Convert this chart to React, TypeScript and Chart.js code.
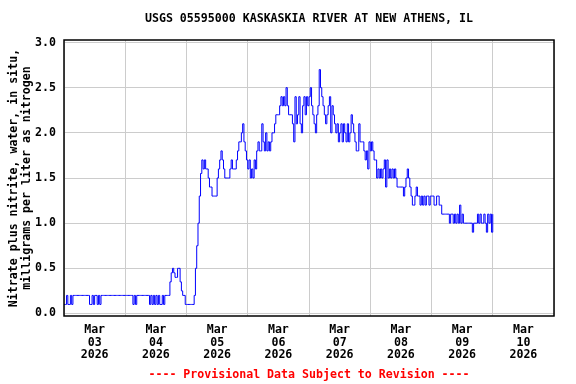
import React, { useEffect, useRef } from "react";
import { Chart, registerables } from "chart.js";

Chart.register(...registerables);

const TITLE = "USGS 05595000 KASKASKIA RIVER AT NEW ATHENS, IL";
const FOOTER = "---- Provisional Data Subject to Revision ----";
const Y_TITLE = ["Nitrate plus nitrite, water, in situ,", "milligrams per liter as nitrogen"];
const MONTH = "Mar";
const YEAR = "2026";
const DAY_LABELS = ["03", "04", "05", "06", "07", "08", "09", "10"];
const Y_TICKS = [0, 0.5, 1.0, 1.5, 2.0, 2.5, 3.0];
const STEP_HOURS = 0.5;

// 30-minute readings, mg/L, starting Mar 03 00:00
const mar03 = [
  0.1, 0.1, 0.2, 0.1, 0.1, 0.2, 0.1, 0.2,
  0.2, 0.2, 0.2, 0.2, 0.2, 0.2, 0.2, 0.2, 0.2, 0.2, 0.2, 0.2,
  0.1, 0.1, 0.2, 0.1, 0.2, 0.2, 0.1, 0.2, 0.1,
  0.2, 0.2, 0.2, 0.2, 0.2, 0.2, 0.2, 0.2, 0.2, 0.2, 0.2, 0.2, 0.2, 0.2, 0.2, 0.2, 0.2, 0.2, 0.2,
];
const mar04 = [
  0.2, 0.2, 0.2, 0.2, 0.2, 0.2,
  0.1, 0.2, 0.1, 0.2,
  0.2, 0.2, 0.2, 0.2, 0.2, 0.2, 0.2, 0.2, 0.2,
  0.1, 0.2, 0.1, 0.2, 0.1, 0.2,
  0.1, 0.2, 0.1, 0.1, 0.2, 0.1,
  0.2, 0.2, 0.2, 0.2,
  0.35, 0.45, 0.5, 0.45, 0.4, 0.4, 0.5, 0.5, 0.35, 0.25, 0.2, 0.2, 0.1,
];
const mar05 = [
  0.1, 0.1, 0.1, 0.1, 0.1, 0.1,
  0.2, 0.5, 0.75, 1.0, 1.3, 1.55, 1.7,
  1.6, 1.7, 1.6, 1.6, 1.5, 1.4, 1.4, 1.3, 1.3, 1.3, 1.3,
  1.5, 1.6, 1.7, 1.8, 1.7, 1.6, 1.5, 1.5, 1.5, 1.5,
  1.6, 1.7, 1.6, 1.6, 1.6, 1.7, 1.8, 1.9, 1.9, 2.0, 2.1, 1.9, 1.8, 1.7,
];
const mar06 = [
  1.6, 1.7, 1.5, 1.6, 1.5, 1.7, 1.6, 1.8, 1.9, 1.8, 1.8, 2.1,
  1.9, 1.8, 2.0, 1.8, 1.9, 1.8, 1.9, 2.0, 2.0, 2.1, 2.2, 2.2,
  2.2, 2.3, 2.4, 2.3, 2.4, 2.3, 2.5, 2.3, 2.2, 2.2, 2.2, 2.1,
  1.9, 2.4, 2.1, 2.2, 2.4, 2.1, 2.0, 2.3, 2.4, 2.2, 2.4, 2.3,
];
const mar07 = [
  2.4, 2.5, 2.3, 2.2, 2.1, 2.0, 2.2, 2.3, 2.7, 2.5, 2.4, 2.3,
  2.2, 2.1, 2.2, 2.3, 2.4, 2.0, 2.3, 2.2, 2.1, 2.0, 2.1, 1.9,
  2.0, 2.1, 1.9, 2.1, 2.0, 1.9, 2.1, 1.9, 2.0, 2.2, 2.1, 2.0,
  1.9, 1.8, 1.8, 2.1, 1.9, 1.9, 1.9, 1.8, 1.7, 1.8, 1.6, 1.9,
];
const mar08 = [
  1.8, 1.9, 1.8, 1.7, 1.7, 1.5, 1.6, 1.5, 1.6, 1.5, 1.6, 1.7,
  1.4, 1.7, 1.5, 1.6, 1.5, 1.6, 1.5, 1.6, 1.5, 1.4, 1.4, 1.4,
  1.4, 1.4, 1.3, 1.4, 1.5, 1.6, 1.5, 1.4, 1.3, 1.2, 1.2, 1.3,
  1.4, 1.3, 1.3, 1.2, 1.3, 1.2, 1.3, 1.2, 1.3, 1.3, 1.2, 1.3,
];
const mar09 = [
  1.3, 1.3, 1.2, 1.2, 1.3, 1.3, 1.2, 1.2, 1.1, 1.1, 1.1, 1.1,
  1.1, 1.1, 1.0, 1.1, 1.1, 1.0, 1.1, 1.0, 1.1, 1.0, 1.2, 1.0,
  1.1, 1.0, 1.0, 1.0, 1.0, 1.0, 1.0, 1.0, 0.9, 1.0, 1.0, 1.0,
  1.1, 1.0, 1.1, 1.0, 1.0, 1.1, 1.0, 0.9, 1.1, 1.0, 1.1, 0.9, 1.1,
];

const FONT_FAMILY = "'DejaVu Sans Mono', monospace";

export default function App() {
  const ref = useRef<HTMLCanvasElement>(null);

  useEffect(() => {
    document.body.style.margin = "0";
    const values = [...mar03, ...mar04, ...mar05, ...mar06, ...mar07, ...mar08, ...mar09];
    const data = values.map((v, i) => ({ x: i * STEP_HOURS, y: v }));
    const font = { family: FONT_FAMILY, size: 11.6, weight: "bold" as const, lineHeight: 1.08 };

    const frame = {
      id: "frame",
      afterDraw(chart: any) {
        const { ctx, chartArea } = chart;
        const cx = (chartArea.left + chartArea.right) / 2;
        ctx.save();
        ctx.strokeStyle = "#000";
        ctx.lineWidth = 1.5;
        ctx.strokeRect(chartArea.left, chartArea.top, chartArea.right - chartArea.left, chartArea.bottom - chartArea.top);
        ctx.font = `bold 11.6px ${FONT_FAMILY}`;
        ctx.textAlign = "center";
        ctx.textBaseline = "middle";
        ctx.fillStyle = "#000";
        ctx.fillText(TITLE, cx, 19);
        ctx.fillStyle = "#ff0000";
        ctx.fillText(FOOTER, cx, 375);
        ctx.restore();
      },
    };

    const chart = new Chart(ref.current!, {
      type: "line",
      data: {
        datasets: [
          {
            data,
            borderColor: "#0000ff",
            borderWidth: 1,
            pointRadius: 0,
            stepped: true,
            fill: false,
          },
        ],
      },
      options: {
        animation: false,
        responsive: false,
        events: [],
        layout: { padding: { top: 40, right: 22, bottom: 0, left: 0 } },
        plugins: { legend: { display: false }, tooltip: { enabled: false }, title: { display: false } },
        scales: {
          x: {
            type: "linear",
            min: 0,
            max: 192,
            afterBuildTicks: (s: any) => {
              const t = [];
              for (let h = 0; h <= 192; h += 12) t.push({ value: h });
              s.ticks = t;
            },
            afterFit: (s: any) => {
              s.height = 68;
            },
            border: { display: false },
            grid: {
              drawTicks: false,
              lineWidth: 1,
              color: (c: any) => (c.tick && c.tick.value % 24 === 0 ? "#cccccc" : "rgba(0,0,0,0)"),
            },
            ticks: {
              autoSkip: false,
              maxRotation: 0,
              minRotation: 0,
              padding: 8,
              color: "#000",
              font,
              callback: (v: any) => {
                const h = Number(v);
                if (h % 24 !== 12) return "";
                const k = (h - 12) / 24;
                return [MONTH, DAY_LABELS[k], YEAR];
              },
            },
          },
          y: {
            type: "linear",
            min: -0.028,
            max: 3.028,
            afterBuildTicks: (s: any) => {
              s.ticks = Y_TICKS.map((v) => ({ value: v }));
            },
            afterFit: (s: any) => {
              s.width = 64;
            },
            border: { display: false },
            grid: { drawTicks: false, lineWidth: 1, color: "#cccccc" },
            ticks: {
              padding: 8,
              color: "#000",
              font,
              callback: (v: any) => Number(v).toFixed(1),
            },
            title: {
              display: true,
              text: Y_TITLE,
              color: "#000",
              font: { ...font, lineHeight: 1.12 },
              padding: { top: 7.5, bottom: 0 },
            },
          },
        },
      },
      plugins: [frame],
    } as any);

    return () => chart.destroy();
  }, []);

  return (
    <div style={{ width: 576, height: 384 }}>
      <canvas ref={ref} width={576} height={384} style={{ display: "block" }} />
    </div>
  );
}
